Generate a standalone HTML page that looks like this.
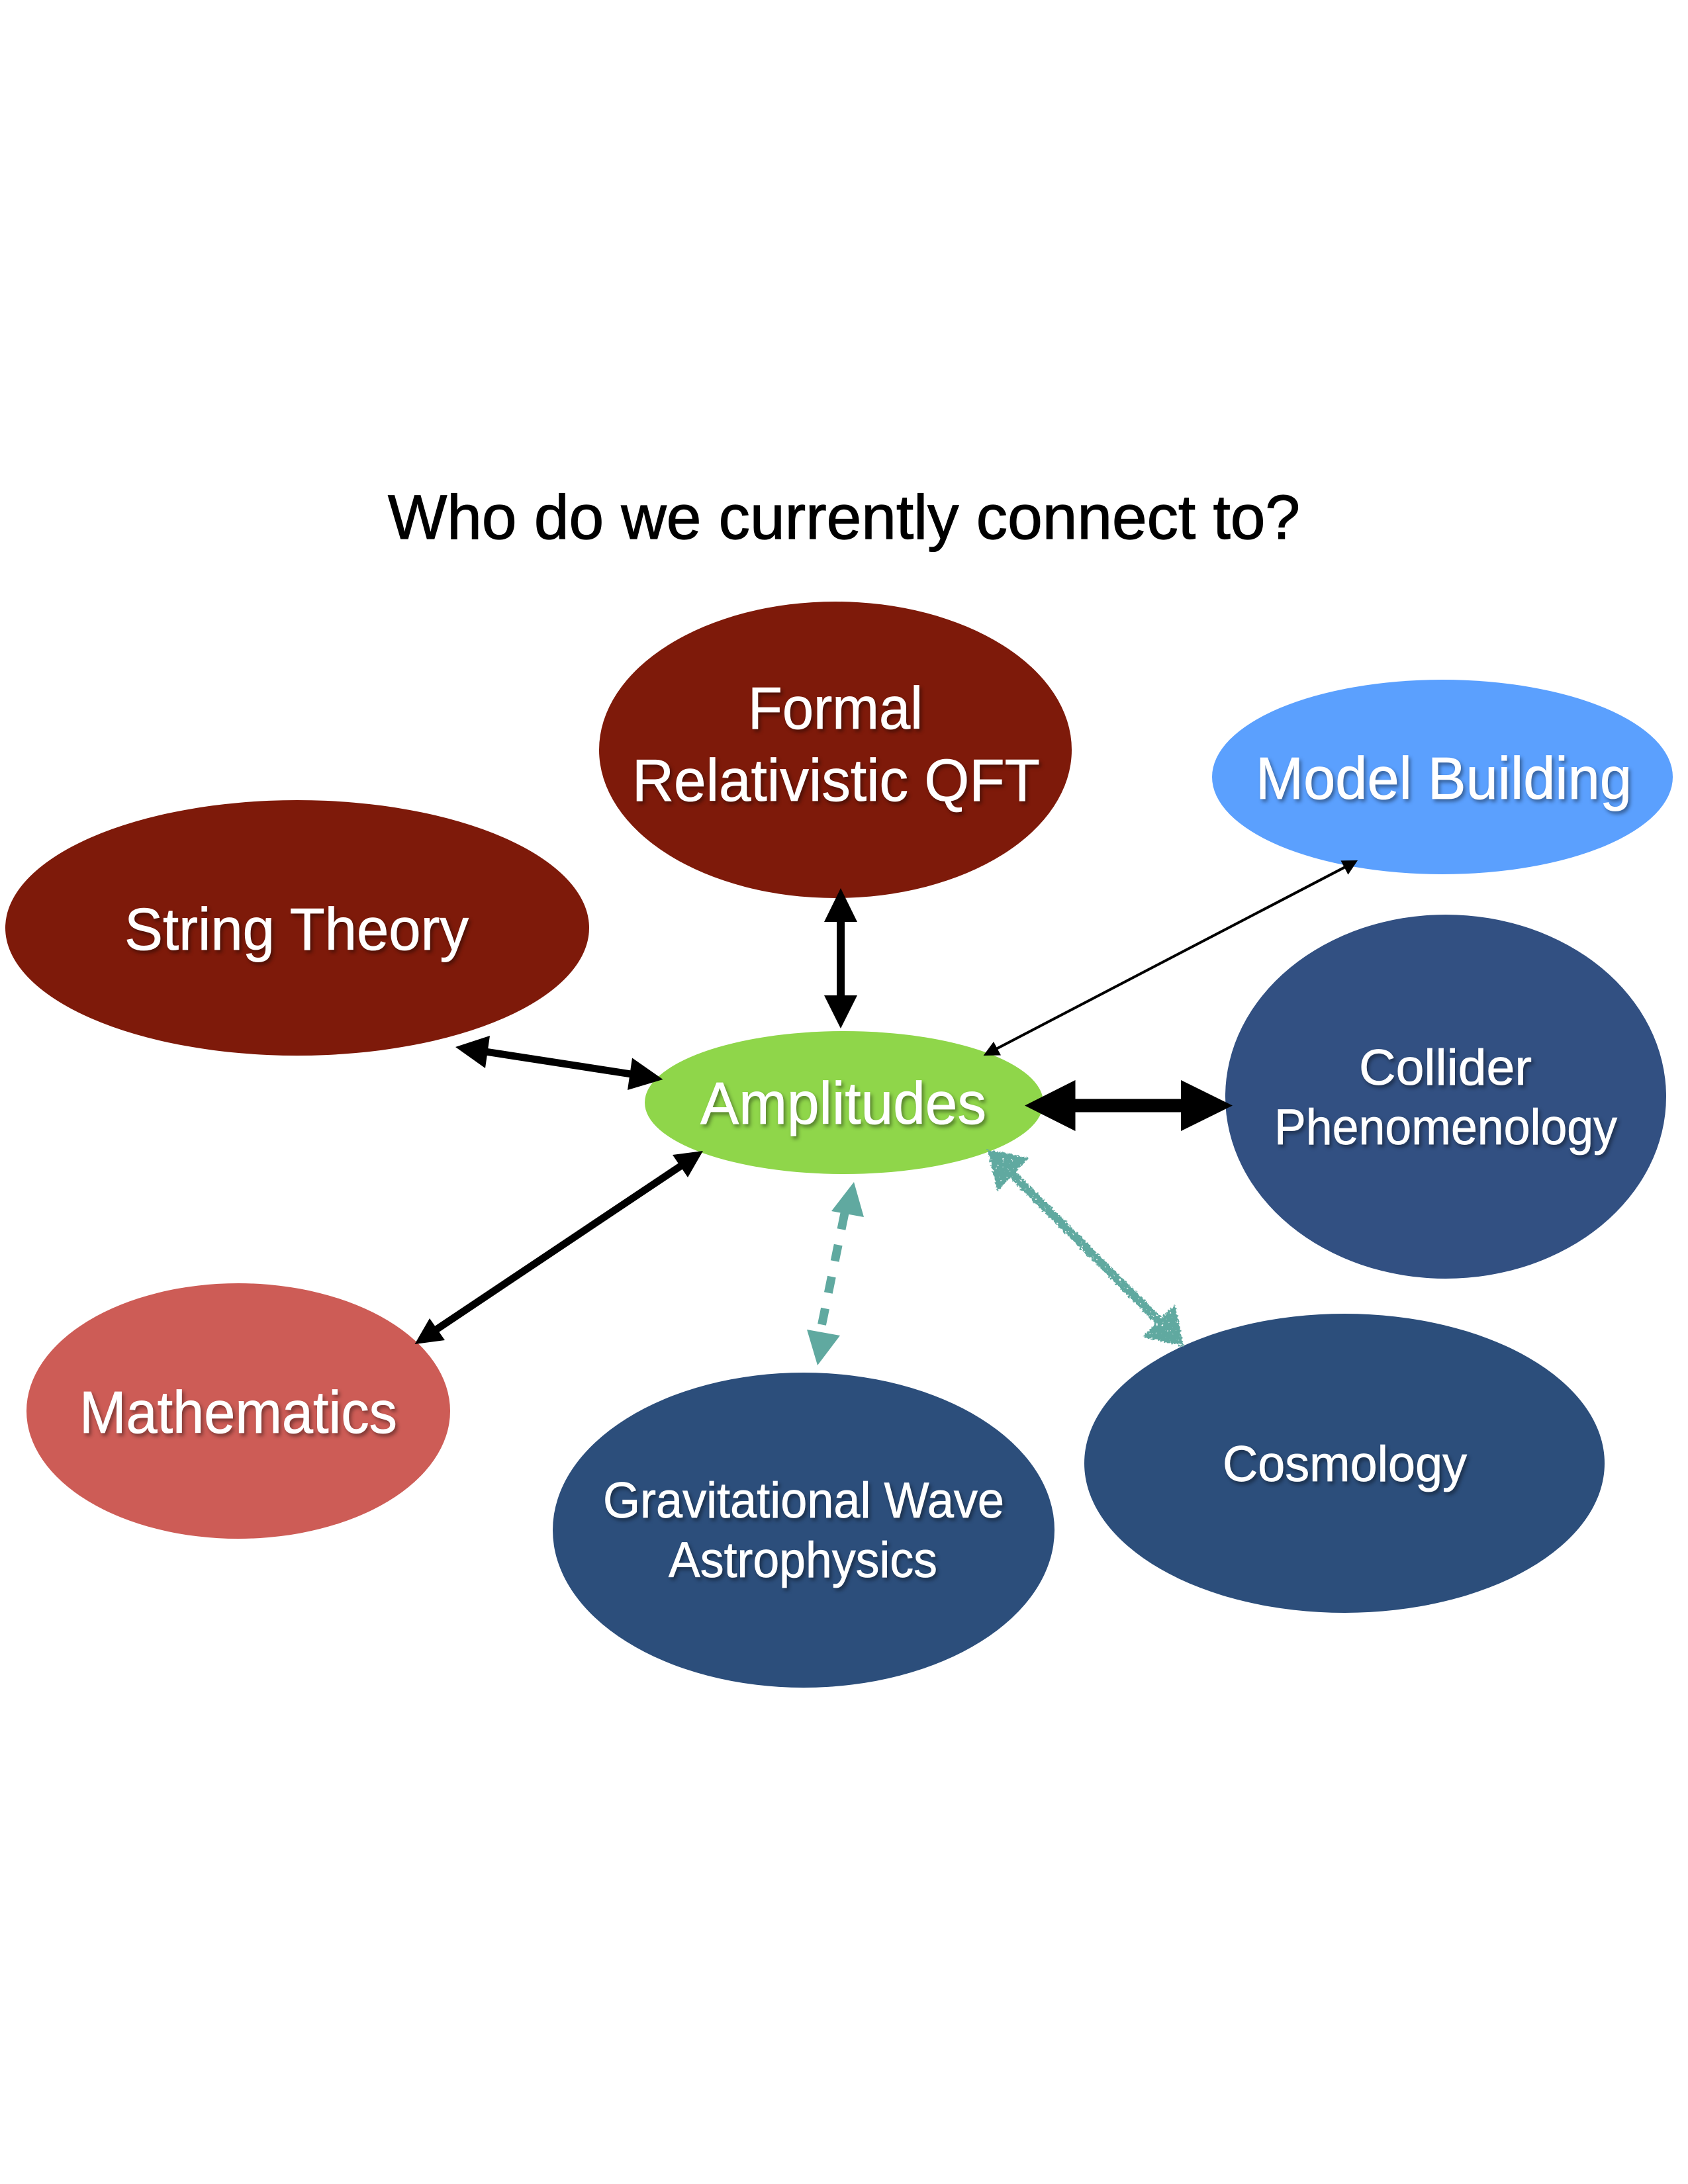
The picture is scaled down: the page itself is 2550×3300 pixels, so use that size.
<!DOCTYPE html>
<html>
<head>
<meta charset="utf-8">
<style>
html,body{margin:0;padding:0;background:#fff;}
svg{display:block;}
text{font-family:"Liberation Sans",sans-serif;}
.l{fill:#fff;stroke:#fff;stroke-width:.8px;filter:drop-shadow(3px 4px 3px rgba(0,0,0,.4));}
</style>
</head>
<body>
<svg xmlns="http://www.w3.org/2000/svg" width="2550" height="3300" viewBox="0 0 2550 3300">
<defs>
<filter id="rough" x="-10%" y="-10%" width="120%" height="120%" color-interpolation-filters="sRGB">
<feTurbulence type="fractalNoise" baseFrequency="0.3" numOctaves="2" seed="4" result="n"/>
<feDisplacementMap in="SourceGraphic" in2="n" scale="8" xChannelSelector="R" yChannelSelector="G" result="d"/>
<feTurbulence type="fractalNoise" baseFrequency="0.22" numOctaves="2" seed="11" result="h"/>
<feColorMatrix in="h" type="matrix" values="0 0 0 0 0  0 0 0 0 0  0 0 0 0 0  14 0 0 0 -3" result="m"/>
<feComposite in="d" in2="m" operator="in"/>
</filter>
</defs>
<rect width="2550" height="3300" fill="#fff"/>

<text x="586" y="814" font-size="95" textLength="1378" lengthAdjust="spacingAndGlyphs" fill="#000" stroke="#000" stroke-width="1.2">Who do we currently connect to?</text>

<ellipse cx="1262" cy="1133" rx="357" ry="224" fill="#7e1a0a"/>
<ellipse cx="449" cy="1402" rx="441" ry="193" fill="#7e1a0a"/>
<ellipse cx="2179" cy="1174" rx="348" ry="147" fill="#5ba0fe"/>
<ellipse cx="2184" cy="1657" rx="333" ry="275" fill="#325082"/>
<ellipse cx="1275" cy="1666" rx="301" ry="108" fill="#8fd64a"/>
<ellipse cx="360" cy="2132" rx="320" ry="193" fill="#cd5c56"/>
<ellipse cx="1214" cy="2312" rx="379" ry="238" fill="#2c4e7b"/>
<ellipse cx="2031" cy="2211" rx="393" ry="226" fill="#2c4e7b"/>

<text class="l" x="1130" y="1101" font-size="90" textLength="264" lengthAdjust="spacingAndGlyphs">Formal</text>
<text class="l" x="955" y="1210" font-size="90" textLength="616" lengthAdjust="spacingAndGlyphs">Relativistic QFT</text>
<text class="l" x="1897" y="1207" font-size="90" textLength="568" lengthAdjust="spacingAndGlyphs">Model Building</text>
<text class="l" x="188" y="1435" font-size="90" textLength="520" lengthAdjust="spacingAndGlyphs">String Theory</text>
<text class="l" x="1058" y="1698" font-size="90" textLength="432" lengthAdjust="spacingAndGlyphs">Amplitudes</text>
<text class="l" x="2053" y="1639" font-size="76" textLength="261" lengthAdjust="spacingAndGlyphs">Collider</text>
<text class="l" x="1925" y="1729" font-size="76" textLength="518" lengthAdjust="spacingAndGlyphs">Phenomenology</text>
<text class="l" x="120" y="2165" font-size="90" textLength="480" lengthAdjust="spacingAndGlyphs">Mathematics</text>
<text class="l" x="911" y="2293" font-size="76" textLength="606" lengthAdjust="spacingAndGlyphs">Gravitational Wave</text>
<text class="l" x="1010" y="2383" font-size="76" textLength="406" lengthAdjust="spacingAndGlyphs">Astrophysics</text>
<text class="l" x="1847" y="2238" font-size="76" textLength="369" lengthAdjust="spacingAndGlyphs">Cosmology</text>

<!-- horizontal thick arrow -->
<line x1="1620" y1="1670.5" x2="1790" y2="1670.5" stroke="#000" stroke-width="20"/>
<polygon points="1548,1670.5 1624.5,1632 1624.5,1709" fill="#000"/>
<polygon points="1862,1670.5 1784,1632 1784,1709" fill="#000"/>

<!-- vertical arrow -->
<line x1="1270" y1="1390" x2="1270" y2="1506" stroke="#000" stroke-width="12"/>
<polygon points="1270,1342 1245,1393 1295,1393" fill="#000"/>
<polygon points="1270,1554 1245,1504 1295,1504" fill="#000"/>

<!-- string arrow -->
<line x1="730" y1="1588.5" x2="960" y2="1624" stroke="#000" stroke-width="11"/>
<polygon points="688,1582 740,1565 733,1614" fill="#000"/>
<polygon points="1001.5,1631 955,1598.5 948,1647" fill="#000"/>

<!-- mathematics arrow -->
<line x1="1040" y1="1754" x2="650" y2="2015" stroke="#000" stroke-width="11"/>
<polygon points="1062,1739 1016,1745 1039,1779" fill="#000"/>
<polygon points="626.5,2031 649,1992 672,2025" fill="#000"/>

<!-- thin arrow -->
<line x1="1500" y1="1587.5" x2="2036" y2="1308" stroke="#000" stroke-width="4"/>
<polygon points="1485.6,1595 1501,1574 1512,1594.5" fill="#000"/>
<polygon points="2051,1300 2036.5,1321.6 2025.5,1300.4" fill="#000"/>

<!-- dashed teal arrow -->
<line x1="1276" y1="1833" x2="1241" y2="2004" stroke="#60a9a0" stroke-width="13" stroke-dasharray="25 24"/>
<polygon points="1290,1786 1256,1830 1305,1839" fill="#60a9a0"/>
<polygon points="1235,2063 1219,2009 1269,2018" fill="#60a9a0"/>

<!-- rough teal arrow -->
<g filter="url(#rough)" fill="#60a9a0">
<line x1="1520" y1="1765" x2="1760" y2="2005" stroke="#60a9a0" stroke-width="13"/>
<polygon points="1492,1737 1554,1749 1507,1800"/>
<polygon points="1788,2034 1775,1971 1726,2020"/>
</g>
</svg>
</body>
</html>
